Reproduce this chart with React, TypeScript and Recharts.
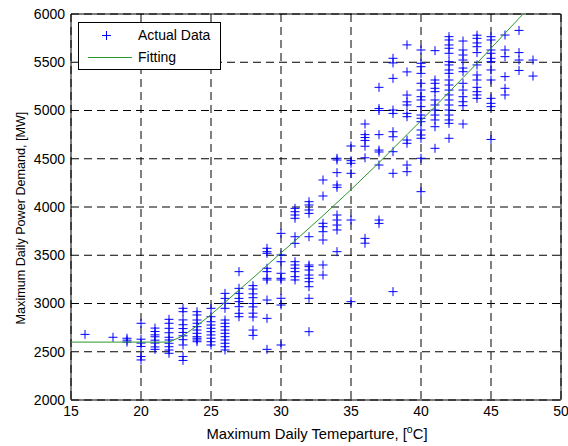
import React from "react";
import {
  ComposedChart,
  Scatter,
  XAxis,
  YAxis,
  CartesianGrid,
  ReferenceArea,
  Legend,
} from "recharts";

// temperatures (°C) with the demand readings (MW) observed at each one
const temps = [16, 18, 19, 20, 21, 22, 23, 24, 25, 26, 27, 28, 29, 30, 31, 32, 33, 34, 35, 36, 37, 38, 39, 40, 41, 42, 43, 44, 45, 46, 47, 48];
const demandByTemp = [
  [2680],
  [2650],
  [2640, 2620, 2600],
  [2795, 2630, 2590, 2555, 2450, 2415],
  [2745, 2710, 2675, 2655, 2620, 2590, 2550, 2525],
  [2836, 2795, 2743, 2697, 2650, 2622, 2588, 2552, 2518, 2484],
  [2950, 2915, 2830, 2780, 2740, 2700, 2665, 2625, 2570, 2450, 2410],
  [2915, 2881, 2829, 2795, 2760, 2725, 2691, 2656, 2640, 2622, 2604],
  [2950, 2863, 2811, 2777, 2743, 2708, 2674, 2640, 2604, 2570],
  [3105, 3053, 3002, 2950, 2829, 2795, 2760, 2725, 2691, 2656, 2622, 2588, 2552, 2518],
  [3330, 3157, 3105, 3053, 3019, 2967, 2898, 2863],
  [3185, 3150, 3100, 3060, 3000, 2965, 2900, 2860, 2725, 2670],
  [3572, 3537, 3520, 3365, 3330, 3261, 3244, 3036, 2846, 2525],
  [3727, 3503, 3433, 3313, 3261, 3244, 3054, 2984, 2570],
  [3986, 3951, 3917, 3883, 3692, 3623, 3433, 3399, 3365, 3330, 3278, 3244],
  [4055, 4021, 3969, 3934, 3692, 3399, 3382, 3347, 3295, 3261, 3226, 3174, 3054, 2708],
  [4280, 4114, 3831, 3796, 3744, 3658, 3399, 3295],
  [4505, 4487, 4356, 4228, 4204, 3917, 3865, 3813, 3762, 3537],
  [4632, 4480, 4453, 4349, 3865, 3019],
  [4860, 4750, 4720, 4690, 4630, 4510, 3675, 3625],
  [5240, 5020, 5000, 4750, 4590, 4570, 4435, 3865, 3830],
  [5541, 5493, 5333, 5005, 4970, 4780, 4728, 4573, 4349, 3123],
  [5680, 5400, 5160, 5090, 5057, 4970, 4936, 4694, 4660, 4435, 4366],
  [5627, 5489, 5454, 5385, 5282, 5212, 5143, 5109, 5040, 4953, 4919, 4884, 4798, 4746, 4712, 4505, 4159],
  [5620, 5316, 5282, 5230, 5195, 5109, 5057, 5005, 4953, 4902, 4832, 4608],
  [5765, 5731, 5679, 5645, 5593, 5506, 5472, 5420, 5385, 5316, 5264, 5212, 5161, 5109, 5057, 5005, 4953, 4902, 4867, 4712],
  [5720, 5627, 5575, 5523, 5440, 5402, 5282, 5212, 5143, 5091, 5050, 4860],
  [5780, 5748, 5700, 5661, 5600, 5472, 5368, 5316, 5240, 5195, 5161, 5126],
  [5765, 5731, 5627, 5593, 5541, 5506, 5420, 5316, 5126, 5074, 5040, 4700],
  [5782, 5627, 5558, 5351, 5230, 5161],
  [5830, 5600, 5523, 5415],
  [5523, 5357],
];

// fitted curve
const fitTemps = [15, 16, 17, 18, 19, 20, 21, 22, 23, 24, 25, 26, 27, 28, 29, 30, 31, 32, 33, 34, 35, 36, 37, 38, 39, 40, 41, 42, 43, 44, 45, 46, 47, 47.3];
const fitDemand = [2600, 2600, 2600, 2600, 2600, 2600, 2600, 2600, 2665, 2770, 2885, 3012, 3140, 3265, 3395, 3525, 3650, 3780, 3910, 4045, 4180, 4320, 4460, 4605, 4750, 4895, 5040, 5190, 5340, 5490, 5645, 5800, 5955, 6000];

const xTicks = [15, 20, 25, 30, 35, 40, 45, 50];
const yTicks = [2000, 2500, 3000, 3500, 4000, 4500, 5000, 5500, 6000];

const actual = temps.flatMap((t, i) => demandByTemp[i].map((d) => ({ t, d })));
const fit = fitTemps.map((t, i) => ({ t, d: fitDemand[i] }));

const FONT = "'Liberation Sans', Arial, sans-serif";
const BLUE = "#0000ff";
const GREEN = "#2a982a";

const Plus = (props: any) => {
  const { cx, cy } = props;
  if (cx == null || cy == null) return <g />;
  return (
    <path
      d={`M${cx - 4.5},${cy}H${cx + 4.5}M${cx},${cy - 4.5}V${cy + 4.5}`}
      stroke={BLUE}
      strokeWidth={1}
      fill="none"
    />
  );
};

const Dot = () => <g />;

const LegendBox = () => (
  <div
    style={{
      width: 141,
      height: 46,
      border: "1px solid #000",
      background: "#fff",
      fontFamily: FONT,
      fontSize: 14,
      color: "#000",
      position: "relative",
    }}
  >
    <svg width={60} height={46} style={{ position: "absolute", left: 0, top: 0 }}>
      <path d="M27.5,8V17M23,12.5H32" stroke={BLUE} strokeWidth={1} />
      <line x1={9} y1={34.5} x2={53} y2={34.5} stroke={GREEN} strokeWidth={1} />
    </svg>
    <div style={{ position: "absolute", left: 59, top: 4, lineHeight: "16px" }}>Actual Data</div>
    <div style={{ position: "absolute", left: 59, top: 26, lineHeight: "16px" }}>Fitting</div>
  </div>
);

const XTitle = () => (
  <text x={317} y={439} textAnchor="middle" fontFamily={FONT} fontSize={14.8} fill="#000">
    Maximum Daily Temeparture, [
    <tspan dy={-6} fontSize={10.5}>o</tspan>
    <tspan dy={6}>C]</tspan>
  </text>
);

const YTitle = () => (
  <text
    x={0}
    y={0}
    transform="translate(25,218) rotate(-90)"
    textAnchor="middle"
    fontFamily={FONT}
    fontSize={12.6}
    fill="#000"
  >
    Maximum Daily Power Demand, [MW]
  </text>
);

export default function App() {
  const tick = { fontSize: 14, fill: "#000", fontFamily: FONT };
  return (
    <div style={{ position: "absolute", left: 0, top: 0, background: "#fff" }}>
      <ComposedChart width={568} height={446} margin={{ top: 14, right: 7, left: 0, bottom: 0 }}>
        <CartesianGrid stroke="#000" strokeDasharray="8 5" strokeWidth={1} />
        <XAxis
          dataKey="t"
          type="number"
          domain={[15, 50]}
          ticks={xTicks}
          tick={tick}
          tickLine={false}
          axisLine={false}
          tickSize={4}
          tickMargin={2}
          height={46}
          allowDataOverflow
          label={<XTitle />}
        />
        <YAxis
          dataKey="d"
          type="number"
          domain={[2000, 6000]}
          ticks={yTicks}
          tick={tick}
          tickLine={false}
          axisLine={false}
          tickSize={4}
          tickMargin={2}
          width={71}
          allowDataOverflow
          label={<YTitle />}
        />
        <ReferenceArea x1={15} x2={50} y1={2000} y2={6000} fill="none" stroke="#000" strokeWidth={1} />
        <Scatter
          name="Actual Data"
          data={actual}
          shape={<Plus />}
          isAnimationActive={false}
        />
        <Scatter
          name="Fitting"
          data={fit}
          shape={<Dot />}
          line={{ stroke: GREEN, strokeWidth: 1 }}
          lineType="joint"
          isAnimationActive={false}
        />
        <Legend
          layout="horizontal"
          verticalAlign="middle"
          align="center"
          content={<LegendBox />}
          wrapperStyle={{ left: 78, top: 22, width: 143, height: 48 }}
        />
      </ComposedChart>
    </div>
  );
}
